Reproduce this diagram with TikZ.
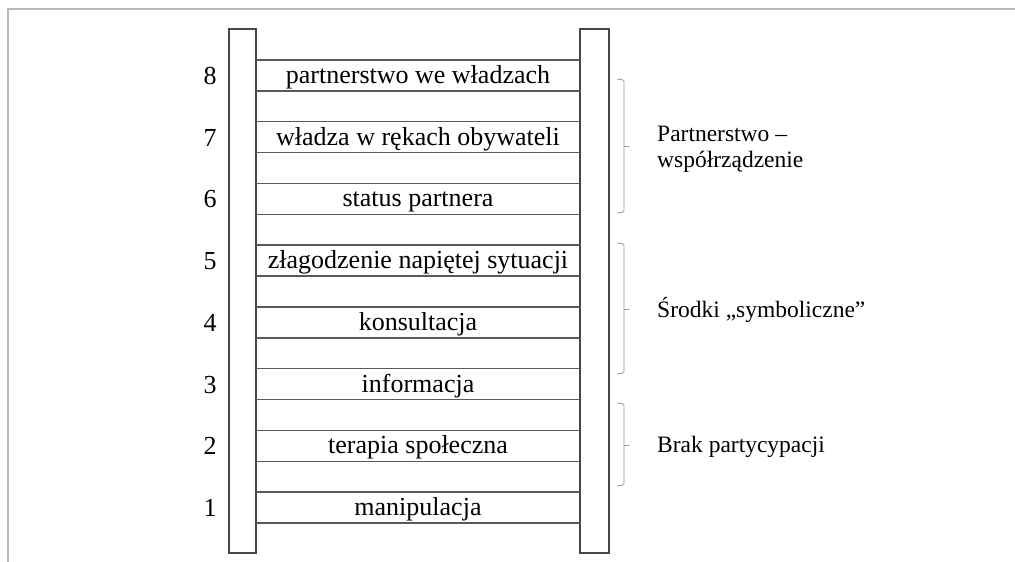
\documentclass[tikz,border=0pt]{standalone}
\usepackage{fontspec}
\setmainfont{Liberation Serif}
\begin{document}
\begin{tikzpicture}[x=1pt,y=-1pt,
  frame/.style={draw=black!28,line width=1.6pt},
  rail/.style={draw=black!72,line width=1.8pt},
  rung/.style={draw=black!65,line width=1.5pt},
  brk/.style={draw=black!40,line width=0.8pt,rounded corners=1.5pt},
  rowtext/.style={font=\fontsize{26}{28}\selectfont,inner sep=0pt,anchor=base},
  num/.style={font=\fontsize{26}{28}\selectfont,inner sep=0pt},
  grp/.style={font=\fontsize{23.5}{26}\selectfont,inner sep=0pt,anchor=west,align=left}]
\useasboundingbox (0,0) rectangle (1015,562);
\draw[frame] (1015,9) -- (8,9) -- (8,562);
\node[rail,minimum width=27pt,minimum height=524pt,inner sep=0pt] (leftrail) at (242.5,291) {};
\node[rail,minimum width=29pt,minimum height=524pt,inner sep=0pt] (rightrail) at (594.5,291) {};
\foreach \i in {0,...,15}{
  \coordinate (a\i) at (256,60+\i*30.87);
  \coordinate (b\i) at (580,60+\i*30.87);
  \draw[rung] (a\i) -- (b\i);
}
\foreach \k/\t in {8/partnerstwo we władzach,7/władza w rękach obywateli,6/status partnera,5/złagodzenie napiętej sytuacji,4/konsultacja,3/informacja,2/terapia społeczna,1/manipulacja}{
  \pgfmathsetmacro{\c}{60+(8-\k)*2*30.87+15.435}
  \node[rowtext] (r\k) at (418,\c+8) {\t};
  \node[num] (n\k) at (210,\c+0.5) {\k};
}
\draw[brk] (617,79) -- (624,80) -- (624,212) -- (617,213);
\coordinate (t1) at (624,146); \coordinate (u1) at (629,146);
\draw[brk] (t1) -- (u1);
\draw[brk] (617,243) -- (624,244) -- (624,373) -- (617,374);
\coordinate (t2) at (624,309); \coordinate (u2) at (629,309);
\draw[brk] (t2) -- (u2);
\draw[brk] (617,403) -- (624,404) -- (624,485) -- (617,486);
\coordinate (t3) at (624,445); \coordinate (u3) at (629,445);
\draw[brk] (t3) -- (u3);
\node[grp] (g1) at (657,149) {Partnerstwo –\\współrządzenie};
\node[grp] (g2) at (657,310) {Środki „symboliczne”};
\node[grp] (g3) at (657,447) {Brak partycypacji};
\end{tikzpicture}
\end{document}
